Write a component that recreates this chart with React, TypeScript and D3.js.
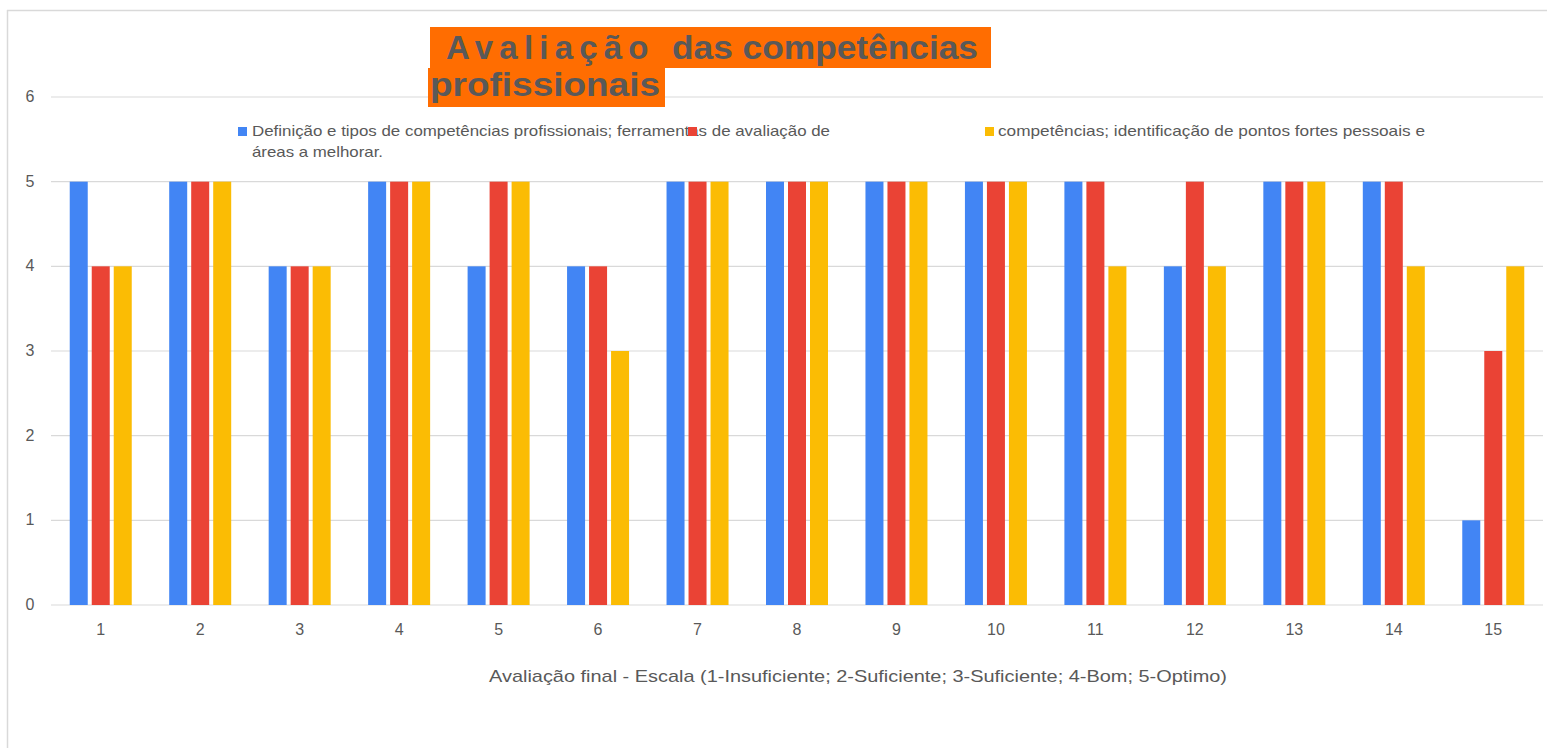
import React from "react";
import * as d3 from "d3";

const categories = ["1", "2", "3", "4", "5", "6", "7", "8", "9", "10", "11", "12", "13", "14", "15"];
const seriesKeys = ["s1", "s2", "s3"];
const seriesColors = ["#4285F4", "#EA4335", "#FBBC04"];
const serie1 = [5, 5, 4, 5, 4, 4, 5, 5, 5, 5, 5, 4, 5, 5, 1];
const serie2 = [4, 5, 4, 5, 5, 4, 5, 5, 5, 5, 5, 5, 5, 5, 3];
const serie3 = [4, 5, 4, 5, 5, 3, 5, 5, 5, 5, 4, 4, 5, 4, 4];
const yTicks = [0, 1, 2, 3, 4, 5, 6];
const legendLabels = [
  ["Definição e tipos de competências profissionais; ferramentas de avaliação de", "áreas a melhorar."],
  [],
  ["competências;  identificação de pontos fortes pessoais e"],
];
const xTitle = "Avaliação final - Escala (1-Insuficiente; 2-Suficiente; 3-Suficiente; 4-Bom; 5-Optimo)";

const W = 1547;
const H = 748;
const FONT = "'Liberation Sans', Arial, sans-serif";
const TEXT = "#595959";
const GRID = "#D9D9D9";

export default function App() {
  const values = [serie1, serie2, serie3];

  const x = d3.scaleBand<string>().domain(categories).range([51, 1543]).padding(0);
  const y = d3.scaleLinear().domain([0, 6]).range([605, 97]);
  const inner = d3
    .scaleBand<string>()
    .domain(seriesKeys)
    .range([-31, 31])
    .paddingInner(4 / 22)
    .paddingOuter(0);

  const legendPos = [
    { sx: 238, tx: 252, widths: [578, 131] },
    { sx: 688, tx: 702, widths: [] },
    { sx: 985, tx: 998, widths: [427] },
  ];

  return (
    <svg
      width={W}
      height={H}
      style={{ position: "fixed", left: 0, top: 0, background: "#fff", whiteSpace: "pre" }}
      fontFamily={FONT}
      xmlSpace="preserve"
    >
      {/* outer frame */}
      <line x1={7} x2={W} y1={10.5} y2={10.5} stroke={GRID} strokeWidth={1.5} />
      <line x1={7.5} x2={7.5} y1={10} y2={H} stroke={GRID} strokeWidth={1.5} />

      {/* grid + y labels */}
      {yTicks.map((t) => (
        <g key={t}>
          <line x1={51} x2={1543} y1={y(t)} y2={y(t)} stroke={GRID} strokeWidth={1.2} />
          <text x={30} y={y(t) + 5} textAnchor="middle" fontSize={16} fill={TEXT}>
            {t}
          </text>
        </g>
      ))}

      {/* bars */}
      {categories.map((c, i) => {
        const cx = (x(c) ?? 0) + x.bandwidth() / 2;
        return (
          <g key={c}>
            {seriesKeys.map((k, j) => (
              <rect
                key={k}
                x={cx + (inner(k) ?? 0)}
                y={y(values[j][i])}
                width={inner.bandwidth()}
                height={y(0) - y(values[j][i])}
                fill={seriesColors[j]}
              />
            ))}
            <text x={cx} y={y(0) + 30} textAnchor="middle" fontSize={16} fill={TEXT}>
              {c}
            </text>
          </g>
        );
      })}

      {/* x axis title */}
      <text
        x={489}
        y={682}
        fontSize={17}
        fill={TEXT}
        textLength={738}
        lengthAdjust="spacingAndGlyphs"
      >
        {xTitle}
      </text>

      {/* legend text first, squares over it */}
      {legendLabels.map((lines, j) =>
        lines.map((l, li) => (
          <text
            key={j + "-" + li}
            x={legendPos[j].tx}
            y={136 + li * 21}
            fontSize={14.5}
            fill={TEXT}
            textLength={legendPos[j].widths[li]}
            lengthAdjust="spacingAndGlyphs"
          >
            {l}
          </text>
        ))
      )}
      {seriesKeys.map((k, j) => (
        <rect key={k} x={legendPos[j].sx} y={127} width={9} height={9} fill={seriesColors[j]} />
      ))}

      {/* title */}
      <rect x={430} y={27} width={561} height={41} fill="#FF6D01" />
      <rect x={428} y={68} width={237} height={39} fill="#FF6D01" />
      <text x={446} y={59} fontSize={33} fontWeight="bold" fill={TEXT} letterSpacing={6.2}>
        Avaliação
      </text>
      <text x={672} y={59} fontSize={34} fontWeight="bold" fill={TEXT} textLength={306} lengthAdjust="spacingAndGlyphs">
        das competências
      </text>
      <text x={430} y={96} fontSize={34} fontWeight="bold" fill={TEXT} textLength={230} lengthAdjust="spacingAndGlyphs">
        profissionais
      </text>
    </svg>
  );
}
